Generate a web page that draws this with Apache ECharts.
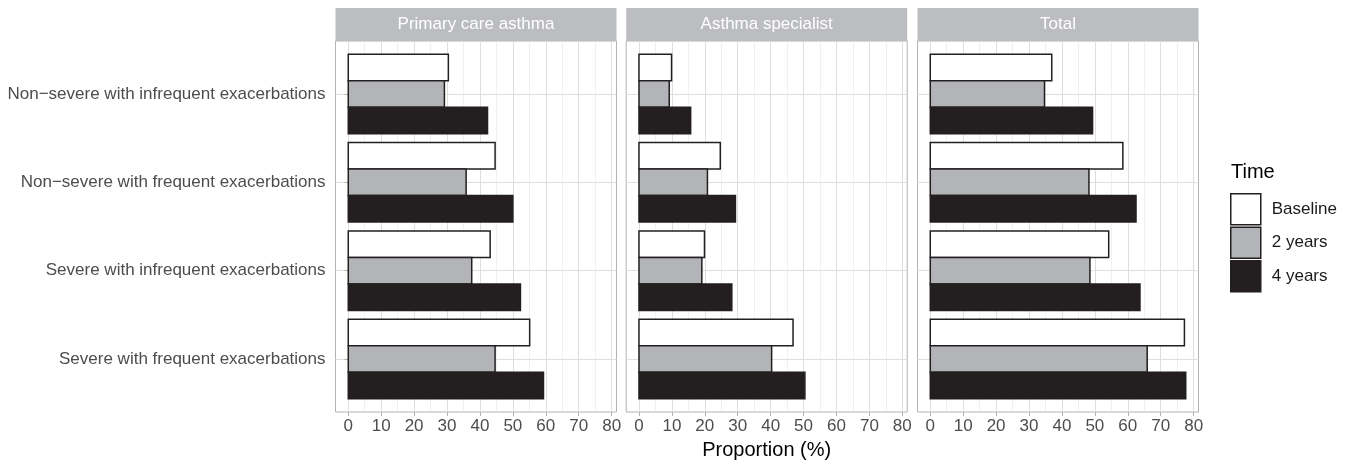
<!DOCTYPE html>
<html><head><meta charset="utf-8">
<script src="https://cdn.jsdelivr.net/npm/echarts@6/dist/echarts.min.js"></script>
<style>html,body{margin:0;padding:0;background:#fff}#c{width:1350px;height:462px}</style>
</head><body><div id="c"></div>
<script>
// ---- data ----
const categories = ['Non\u2212severe with infrequent exacerbations', 'Non\u2212severe with frequent exacerbations', 'Severe with infrequent exacerbations', 'Severe with frequent exacerbations'];
const panels = ['Primary care asthma', 'Asthma specialist', 'Total'];
const times = ['Baseline', '2 years', '4 years'];
const xTicks = [0, 10, 20, 30, 40, 50, 60, 70, 80];
const xMinorTicks = [5, 15, 25, 35, 45, 55, 65, 75];
const primaryBaseline = [30.4, 44.6, 43.1, 55.1];
const primary2y = [29.2, 35.8, 37.5, 44.6];
const primary4y = [42.3, 50.0, 52.3, 59.3];
const specialistBaseline = [9.9, 24.7, 19.9, 46.8];
const specialist2y = [9.2, 20.8, 19.1, 40.3];
const specialist4y = [15.7, 29.3, 28.2, 50.4];
const totalBaseline = [36.9, 58.5, 54.2, 77.2];
const total2y = [34.7, 48.2, 48.5, 65.9];
const total4y = [49.3, 62.5, 63.7, 77.6];

const panelData = [
  [primaryBaseline, primary2y, primary4y],
  [specialistBaseline, specialist2y, specialist4y],
  [totalBaseline, total2y, total4y]
];
const fills = ['#ffffff', '#b3b4b7', '#231f20'];
const outline = '#231f20';

// ---- layout ----
const panelLeft = [335.5, 626.2, 917.5];
const panelWidth = 281;
const panelTop = 41;
const panelHeight = 371;
const stripTop = 8;
const stripHeight = 33;
const FONT = '"Liberation Sans", Arial, Helvetica, sans-serif';

let dataMax = 0;
panelData.forEach(p => p.forEach(s => s.forEach(v => { if (v > dataMax) dataMax = v; })));
const xMin = -0.05 * dataMax, xMax = dataMax * 1.05;

const grids = [], xAxes = [], yAxes = [], series = [], graphics = [];
panels.forEach((name, p) => {
  grids.push({left: panelLeft[p], top: panelTop, width: panelWidth, height: panelHeight,
    show: true, borderColor: '#b3b3b3', borderWidth: 1, backgroundColor: 'transparent',
    containLabel: false, outerBoundsMode: 'none'});
  xAxes.push({type: 'value', gridIndex: p, min: xMin, max: xMax, position: 'bottom',
    axisLine: {show: false},
    axisTick: {show: true, customValues: xTicks, length: 4, lineStyle: {color: '#b3b3b3', width: 1}},
    axisLabel: {show: true, customValues: xTicks, color: '#4d4d4d', fontSize: 17, fontFamily: FONT, margin: 6},
    splitLine: {show: true, lineStyle: {color: '#dedede', width: 1}},
    name: p === 1 ? 'Proportion (%)' : '', nameLocation: 'middle', nameGap: 28,
    nameTextStyle: {color: '#000', fontSize: 20, fontFamily: FONT}
  });
  xAxes.push({type: 'value', gridIndex: p, min: xMin, max: xMax, position: 'top',
    axisLine: {show: false}, axisLabel: {show: false},
    axisTick: {show: false, customValues: xMinorTicks},
    splitLine: {show: true, lineStyle: {color: '#e6e6e6', width: 0.6}}
  });
  yAxes.push({type: 'value', gridIndex: p, min: 0.4, max: 4.6, inverse: true,
    axisLine: {show: false},
    axisTick: {show: p === 0, customValues: [1, 2, 3, 4], length: 4, lineStyle: {color: '#b3b3b3', width: 1}},
    axisLabel: {show: p === 0, customValues: [1, 2, 3, 4], color: '#4d4d4d', fontSize: 17, fontFamily: FONT, margin: 10,
      formatter: v => categories[Math.round(v) - 1] || ''},
    splitLine: {show: true, lineStyle: {color: '#dedede', width: 1}}
  });
  graphics.push({type: 'rect', shape: {x: panelLeft[p], y: stripTop, width: panelWidth, height: stripHeight},
    style: {fill: '#bcbdc0'}});
  graphics.push({type: 'text', x: panelLeft[p] + panelWidth / 2, y: stripTop + stripHeight / 2,
    style: {text: name, fill: '#ffffff', fontSize: 17, fontFamily: FONT, align: 'center', verticalAlign: 'middle'}});

  times.forEach((t, k) => {
    series.push({
      type: 'custom', name: t, xAxisIndex: 2 * p, yAxisIndex: p,
      itemStyle: {color: fills[k], borderColor: outline, borderWidth: 1.5},
      encode: {x: 0, y: 1},
      data: panelData[p][k].map((v, i) => [v, i + 1]),
      renderItem: (params, api) => {
        const v = api.value(0), c = api.value(1);
        const band = api.size([0, 1])[1];
        const barH = band * 0.3;
        const base = api.coord([0, c]);
        const end = api.coord([v, c]);
        const cy = base[1] + (k - 1) * barH;
        return {type: 'rect',
          shape: {x: base[0], y: cy - barH / 2, width: end[0] - base[0], height: barH},
          style: {fill: fills[k], stroke: k === 2 ? fills[k] : outline, lineWidth: 1.5}};
      }
    });
  });
});

const chart = echarts.init(document.getElementById('c'), null, {renderer: 'canvas'});
chart.setOption({
  animation: false,
  grid: grids, xAxis: xAxes, yAxis: yAxes, series: series,
  title: {text: 'Time', left: 1231, top: 162, padding: 0,
    textStyle: {fontSize: 20, fontWeight: 'normal', color: '#000', fontFamily: FONT}},
  legend: {orient: 'vertical', left: 1230, top: 193, padding: 0, itemGap: 1,
    itemWidth: 30, itemHeight: 31, icon: 'rect', selectedMode: false,
    textStyle: {fontSize: 17, color: '#1a1a1a', fontFamily: FONT, padding: [0, 0, 0, 6]},
    data: times.map((t, k) => ({name: t, itemStyle: {color: fills[k], borderColor: outline, borderWidth: 1.5}}))},
  graphic: graphics
});
</script></body></html>
